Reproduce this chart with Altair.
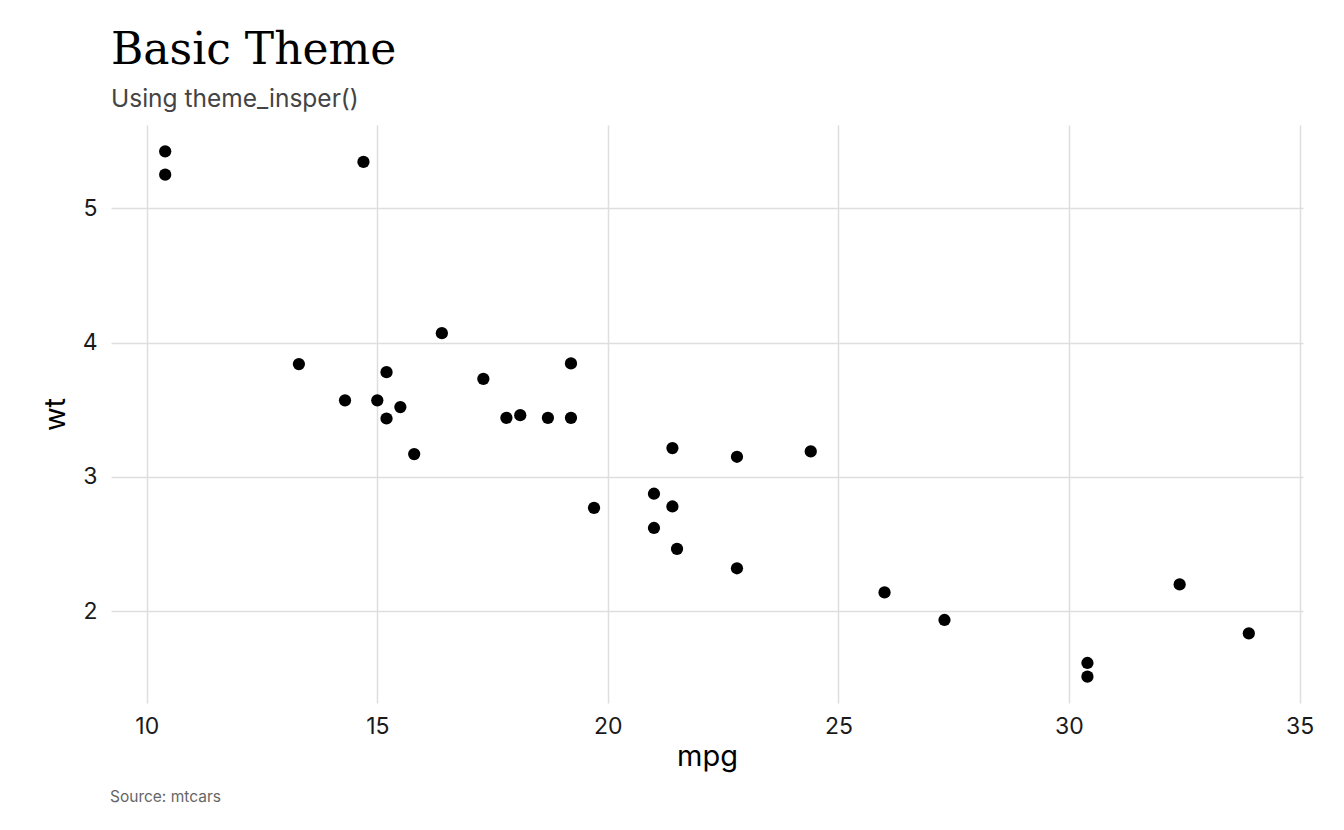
import altair as alt
import pandas as pd

mpg = [21.0, 21.0, 22.8, 21.4, 18.7, 18.1, 14.3, 24.4, 22.8, 19.2, 17.8, 16.4, 17.3, 15.2, 10.4, 10.4,
       14.7, 32.4, 30.4, 33.9, 21.5, 15.5, 15.2, 13.3, 19.2, 27.3, 26.0, 30.4, 15.8, 19.7, 15.0, 21.4]
wt = [2.620, 2.875, 2.320, 3.215, 3.440, 3.460, 3.570, 3.190, 3.150, 3.440, 3.440, 4.070, 3.730, 3.780,
      5.250, 5.424, 5.345, 2.200, 1.615, 1.835, 2.465, 3.520, 3.435, 3.840, 3.845, 1.935, 2.140, 1.513,
      3.170, 2.770, 3.570, 2.780]
x_ticks = [10, 15, 20, 25, 30, 35]
y_ticks = [2, 3, 4, 5]
caption = ["Source: mtcars"]

df = pd.DataFrame({"mpg": mpg, "wt": wt})

points = alt.Chart(df).mark_circle(size=150, color="black", opacity=1).encode(
    x=alt.X("mpg:Q", scale=alt.Scale(domain=[9.225, 35.075], nice=False, zero=False),
            axis=alt.Axis(values=x_ticks, title="mpg", grid=True, domain=False, ticks=False,
                          labelFontSize=23, labelPadding=12, labelColor="#1a1a1a",
                          titleFontSize=29, titleFontWeight="normal", titlePadding=4,
                          titleColor="#000000", labelFont="Inter", titleFont="Inter")),
    y=alt.Y("wt:Q", scale=alt.Scale(domain=[1.317, 5.62], nice=False, zero=False),
            axis=alt.Axis(values=y_ticks, title="wt", grid=True, domain=False, ticks=False,
                          labelFontSize=23, labelPadding=14, labelColor="#1a1a1a",
                          titleFontSize=29, titleFontWeight="normal", titlePadding=12,
                          titleColor="#000000", labelFont="Inter", titleFont="Inter")),
)

cap = alt.Chart(pd.DataFrame({"t": caption})).mark_text(
    align="left", baseline="alphabetic", font="Inter", fontSize=15.5, color="#666666"
).encode(x=alt.value(-1), y=alt.value(99 + 578), text="t:N")

chart = alt.layer(points, cap).properties(
    width=1192, height=578,
    autosize=alt.AutoSizeParams(type="none"),
    padding={"left": 103, "top": 117, "right": 33, "bottom": 125},
    title=alt.TitleParams(
        text="Basic Theme", subtitle="Using theme_insper()", anchor="start",
        font="DejaVu Serif", fontSize=44, fontWeight="normal", color="#000000",
        subtitleFont="Inter", subtitleFontSize=24.5, subtitleColor="#444444",
        subtitlePadding=15, offset=14, frame="group",
    ),
).configure_view(stroke=None).configure_axis(gridColor="#dedede", gridWidth=1.5)

chart.save("out.html", embed_options={"renderer": "svg", "actions": False})
